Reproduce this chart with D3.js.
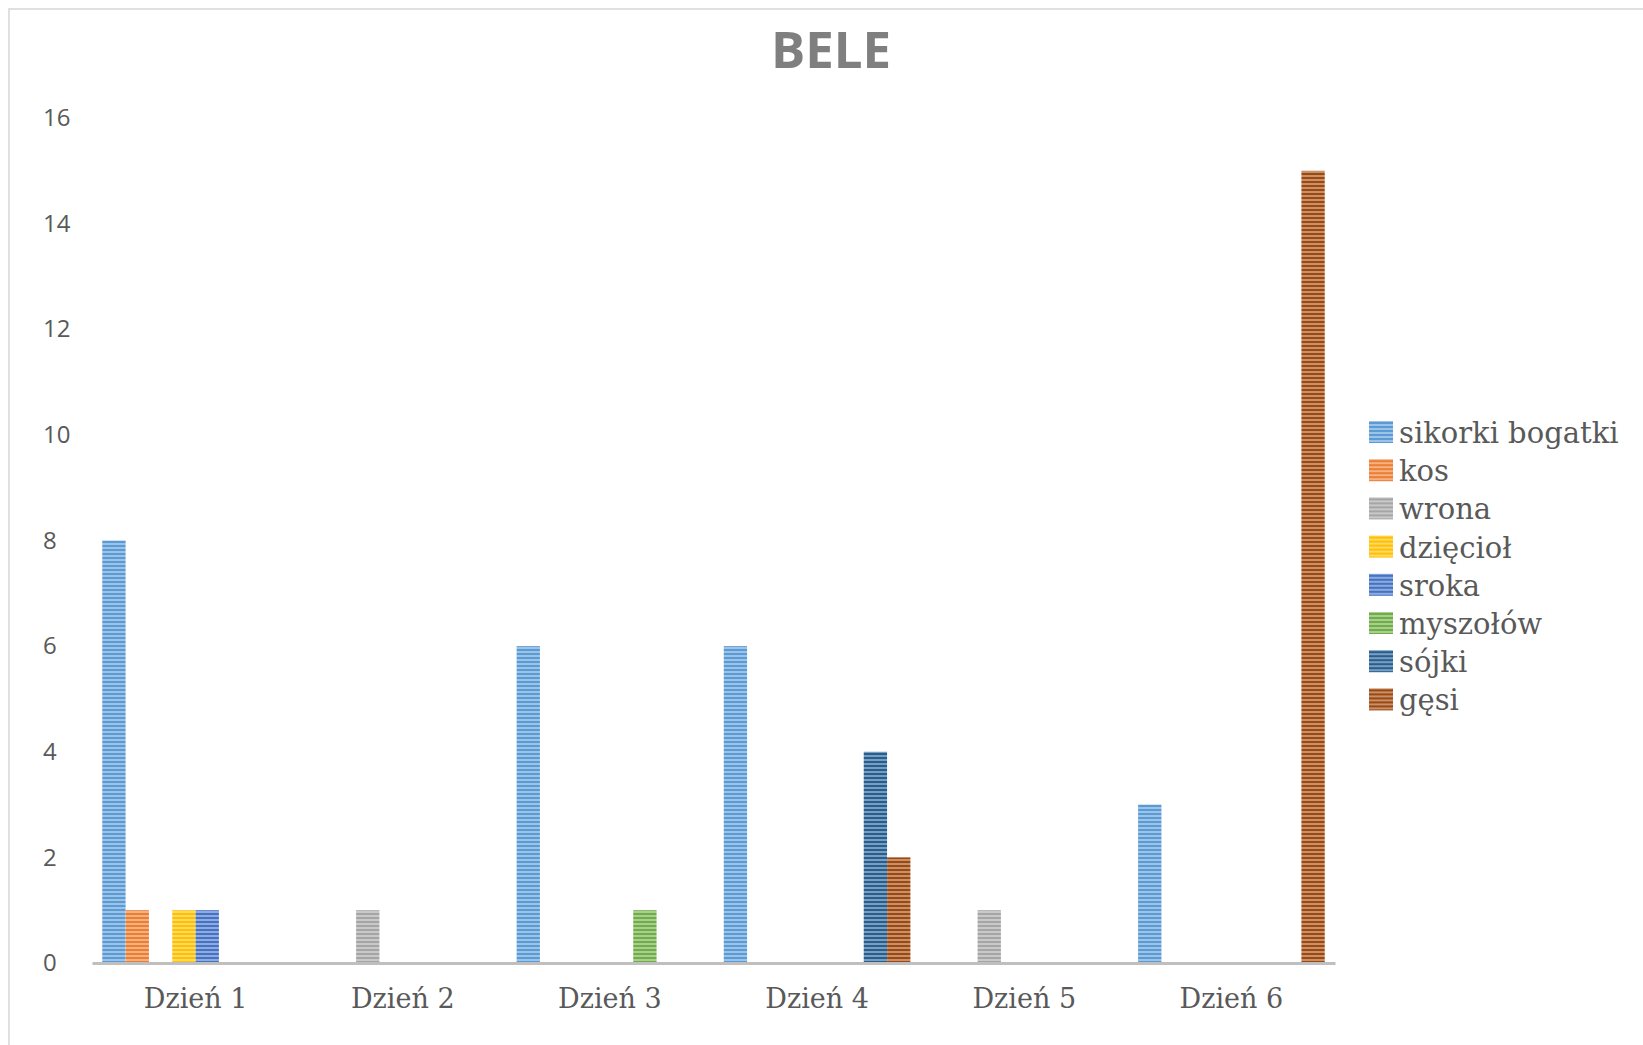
<!DOCTYPE html>
<html>
<head>
<meta charset="utf-8">
<script src="https://cdn.jsdelivr.net/npm/d3@7"></script>
<style>
  body { margin: 0; background: #fff; }
  svg { display: block; }
</style>
</head>
<body>
<svg id="chart" width="1643" height="1045"></svg>
<script>
// data
const categories = ["Dzień 1", "Dzień 2", "Dzień 3", "Dzień 4", "Dzień 5", "Dzień 6"];
const seriesNames = ["sikorki bogatki", "kos", "wrona", "dzięcioł", "sroka", "myszołów", "sójki", "gęsi"];
const seriesColors = ["#5B9BD5", "#ED7D31", "#A5A5A5", "#FFC000", "#4472C4", "#70AD47", "#255E91", "#9E480E"];
// one array per series, values per day
const sikorki = [8, 0, 6, 6, 0, 3];
const kos = [1, 0, 0, 0, 0, 0];
const wrona = [0, 1, 0, 0, 1, 0];
const dzieciol = [1, 0, 0, 0, 0, 0];
const sroka = [1, 0, 0, 0, 0, 0];
const myszolow = [0, 0, 1, 0, 0, 0];
const sojki = [0, 0, 0, 4, 0, 0];
const gesi = [0, 0, 0, 2, 0, 15];
const yTicks = [0, 2, 4, 6, 8, 10, 12, 14, 16];

const seriesValues = [sikorki, kos, wrona, dzieciol, sroka, myszolow, sojki, gesi];

const svg = d3.select("#chart");

// chart frame (runs off the right and bottom edge)
svg.append("rect")
  .attr("x", 9).attr("y", 9)
  .attr("width", 1700).attr("height", 1100)
  .attr("fill", "none")
  .attr("stroke", "#e0e0e0")
  .attr("stroke-width", 2);

// striped fills
const defs = svg.append("defs");
seriesColors.forEach((c, i) => {
  const p = defs.append("pattern")
    .attr("id", "pat" + i)
    .attr("patternUnits", "userSpaceOnUse")
    .attr("width", 8).attr("height", 4);
  p.append("rect").attr("width", 8).attr("height", 4)
    .attr("fill", d3.interpolateRgb(c, "#ffffff")(0.4));
  p.append("rect").attr("y", 1).attr("width", 8).attr("height", 2)
    .attr("fill", c);
});

const x0 = d3.scaleBand()
  .domain(categories)
  .range([92, 1335])
  .padding(0);

const x1 = d3.scaleBand()
  .domain(seriesNames)
  .range([0, x0.bandwidth()])
  .paddingInner(0)
  .paddingOuter(0.44);

const y = d3.scaleLinear()
  .domain([0, 16])
  .range([963, 118]);

// bars
const rows = [];
categories.forEach((cat, ci) => {
  seriesNames.forEach((s, si) => {
    const v = seriesValues[si][ci];
    if (v > 0) rows.push({ cat, s, si, v });
  });
});

svg.append("g").attr("class", "bars")
  .selectAll("rect")
  .data(rows)
  .join("rect")
  .attr("x", d => x0(d.cat) + x1(d.s))
  .attr("y", d => y(d.v))
  .attr("width", x1.bandwidth())
  .attr("height", d => y(0) - y(d.v))
  .attr("fill", d => "url(#pat" + d.si + ")");

// y axis, labels only
const yAxis = svg.append("g")
  .attr("transform", "translate(43,0)")
  .call(d3.axisLeft(y).tickValues(yTicks).tickSize(0).tickPadding(0));
yAxis.select(".domain").remove();
yAxis.selectAll("text")
  .attr("text-anchor", "start")
  .attr("x", 0)
  .attr("fill", "#595959")
  .style("font-family", "'Open Sans', sans-serif")
  .style("font-size", "24px");

// x axis
const xAxis = svg.append("g")
  .attr("transform", "translate(0,963)")
  .call(d3.axisBottom(x0).tickSize(0));
xAxis.select(".domain")
  .attr("stroke", "#bfbfbf")
  .attr("stroke-width", 3);
xAxis.selectAll("text")
  .attr("y", 45)
  .attr("dy", 0)
  .attr("fill", "#595959")
  .style("font-family", "'DejaVu Serif', serif")
  .style("font-size", "27px");

// title
svg.append("text")
  .attr("x", 831).attr("y", 68)
  .attr("text-anchor", "middle")
  .attr("fill", "#7f7f7f")
  .style("font-family", "'Open Sans', sans-serif")
  .style("font-weight", 700)
  .style("font-size", "51px")
  .text("BELE");

// legend
const legend = svg.append("g")
  .attr("transform", "translate(1369,421)")
  .selectAll("g")
  .data(seriesNames)
  .join("g")
  .attr("transform", (d, i) => `translate(0,${i * 38.2})`);

legend.append("rect")
  .attr("width", 24).attr("height", 22)
  .attr("fill", (d, i) => "url(#pat" + i + ")");

legend.append("text")
  .attr("x", 30).attr("y", 22)
  .attr("fill", "#595959")
  .style("font-family", "'DejaVu Serif', serif")
  .style("font-size", "29px")
  .text(d => d);
</script>
</body>
</html>
